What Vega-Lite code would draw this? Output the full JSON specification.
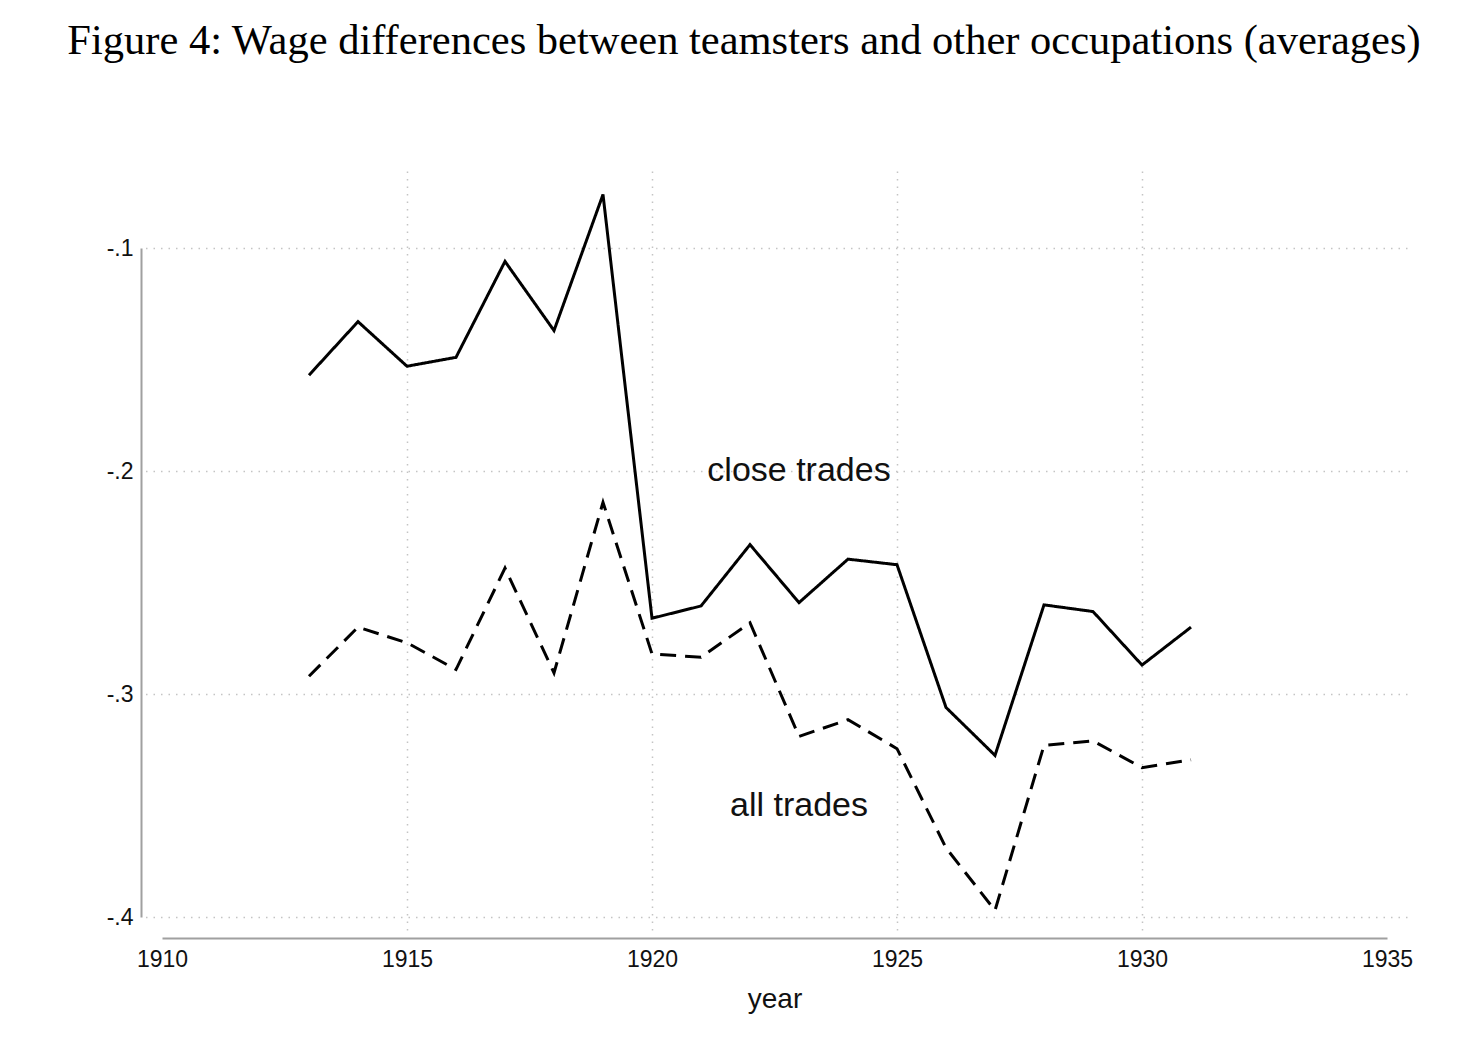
{
  "$schema": "https://vega.github.io/schema/vega-lite/v6.json",
  "width": 1262,
  "height": 760,
  "autosize": "none",
  "padding": {"left": 145, "top": 170, "right": 69, "bottom": 130},
  "background": "white",
  "title": {
    "text": "Figure 4: Wage differences between teamsters and other occupations (averages)",
    "font": "Liberation Serif",
    "fontSize": 42.5,
    "fontWeight": "normal",
    "color": "black",
    "anchor": "middle",
    "frame": "group",
    "dx": -32,
    "offset": 108
  },
  "config": {
    "view": {"stroke": null},
    "axis": {
      "labelFont": "Liberation Sans",
      "titleFont": "Liberation Sans",
      "labelColor": "#111111",
      "titleColor": "#111111",
      "gridColor": "#c4c4c4",
      "gridDash": [1.5, 6],
      "gridWidth": 1.5,
      "domainColor": "#a0a0a0",
      "domainWidth": 2,
      "ticks": false,
      "tickSize": 0
    }
  },
  "layer": [
    {
      "data": {
        "values": [
          {"series": "close trades", "year": 1913, "value": -0.157},
          {"series": "close trades", "year": 1914, "value": -0.133},
          {"series": "close trades", "year": 1915, "value": -0.153},
          {"series": "close trades", "year": 1916, "value": -0.149},
          {"series": "close trades", "year": 1917, "value": -0.106},
          {"series": "close trades", "year": 1918, "value": -0.137},
          {"series": "close trades", "year": 1919, "value": -0.076},
          {"series": "close trades", "year": 1920, "value": -0.266},
          {"series": "close trades", "year": 1921, "value": -0.2605},
          {"series": "close trades", "year": 1922, "value": -0.233},
          {"series": "close trades", "year": 1923, "value": -0.259},
          {"series": "close trades", "year": 1924, "value": -0.2395},
          {"series": "close trades", "year": 1925, "value": -0.242},
          {"series": "close trades", "year": 1926, "value": -0.306},
          {"series": "close trades", "year": 1927, "value": -0.3275},
          {"series": "close trades", "year": 1928, "value": -0.260},
          {"series": "close trades", "year": 1929, "value": -0.263},
          {"series": "close trades", "year": 1930, "value": -0.287},
          {"series": "close trades", "year": 1931, "value": -0.270},
          {"series": "all trades", "year": 1913, "value": -0.292},
          {"series": "all trades", "year": 1914, "value": -0.270},
          {"series": "all trades", "year": 1915, "value": -0.277},
          {"series": "all trades", "year": 1916, "value": -0.289},
          {"series": "all trades", "year": 1917, "value": -0.2435},
          {"series": "all trades", "year": 1918, "value": -0.2905},
          {"series": "all trades", "year": 1919, "value": -0.214},
          {"series": "all trades", "year": 1920, "value": -0.282},
          {"series": "all trades", "year": 1921, "value": -0.2835},
          {"series": "all trades", "year": 1922, "value": -0.268},
          {"series": "all trades", "year": 1923, "value": -0.319},
          {"series": "all trades", "year": 1924, "value": -0.3115},
          {"series": "all trades", "year": 1925, "value": -0.3245},
          {"series": "all trades", "year": 1926, "value": -0.369},
          {"series": "all trades", "year": 1927, "value": -0.397},
          {"series": "all trades", "year": 1928, "value": -0.323},
          {"series": "all trades", "year": 1929, "value": -0.321},
          {"series": "all trades", "year": 1930, "value": -0.333},
          {"series": "all trades", "year": 1931, "value": -0.3295}
        ]
      },
      "mark": {"type": "line", "color": "black", "strokeWidth": 3, "clip": false},
      "encoding": {
        "x": {
          "field": "year",
          "type": "quantitative",
          "scale": {"domain": [1909.653, 1935.408], "nice": false, "zero": false},
          "axis": {
            "orient": "top",
            "grid": true,
            "domain": false,
            "labels": false,
            "ticks": false,
            "title": null,
            "values": [1915, 1920, 1925, 1930]
          }
        },
        "y": {
          "field": "value",
          "type": "quantitative",
          "scale": {"domain": [-0.4058, -0.065], "nice": false, "zero": false},
          "axis": {
            "orient": "right",
            "grid": true,
            "domain": false,
            "labels": false,
            "ticks": false,
            "title": null,
            "values": [-0.4, -0.3, -0.2, -0.1]
          }
        },
        "strokeDash": {
          "field": "series",
          "type": "nominal",
          "scale": {"domain": ["close trades", "all trades"], "range": [[1, 0], [16, 9]]},
          "legend": null
        },
        "detail": {"field": "series"}
      }
    },
    {
      "data": {
        "values": [
          {"label": "close trades", "year": 1923, "value": -0.2},
          {"label": "all trades", "year": 1923, "value": -0.35}
        ]
      },
      "mark": {"type": "text", "font": "Liberation Sans", "fontSize": 34, "color": "#111111", "align": "center", "baseline": "middle"},
      "encoding": {
        "text": {"field": "label"},
        "x": {
          "field": "year",
          "type": "quantitative",
          "scale": {"domain": [1910, 1935], "range": [17, 1242], "nice": false, "zero": false},
          "axis": {
            "orient": "bottom",
            "grid": false,
            "domain": true,
            "offset": 8,
            "values": [1910, 1915, 1920, 1925, 1930, 1935],
            "format": "d",
            "labelFontSize": 23,
            "labelPadding": 10,
            "labelFlush": false,
            "labelOverlap": false,
            "title": "year",
            "titleFontSize": 28,
            "titleFontWeight": "normal",
            "titlePadding": 14
          }
        },
        "y": {
          "field": "value",
          "type": "quantitative",
          "scale": {"domain": [-0.4, -0.1], "range": [747, 78], "nice": false, "zero": false},
          "axis": {
            "orient": "left",
            "grid": false,
            "domain": true,
            "offset": 4,
            "values": [-0.4, -0.3, -0.2, -0.1],
            "labelExpr": "'-' + replace(format(abs(datum.value), '.1f'), '0.', '.')",
            "labelFontSize": 23,
            "labelPadding": 8,
            "labelFlush": false,
            "labelOverlap": false,
            "title": null
          }
        }
      }
    }
  ],
  "resolve": {
    "scale": {"x": "independent", "y": "independent"},
    "axis": {"x": "independent", "y": "independent"}
  }
}
